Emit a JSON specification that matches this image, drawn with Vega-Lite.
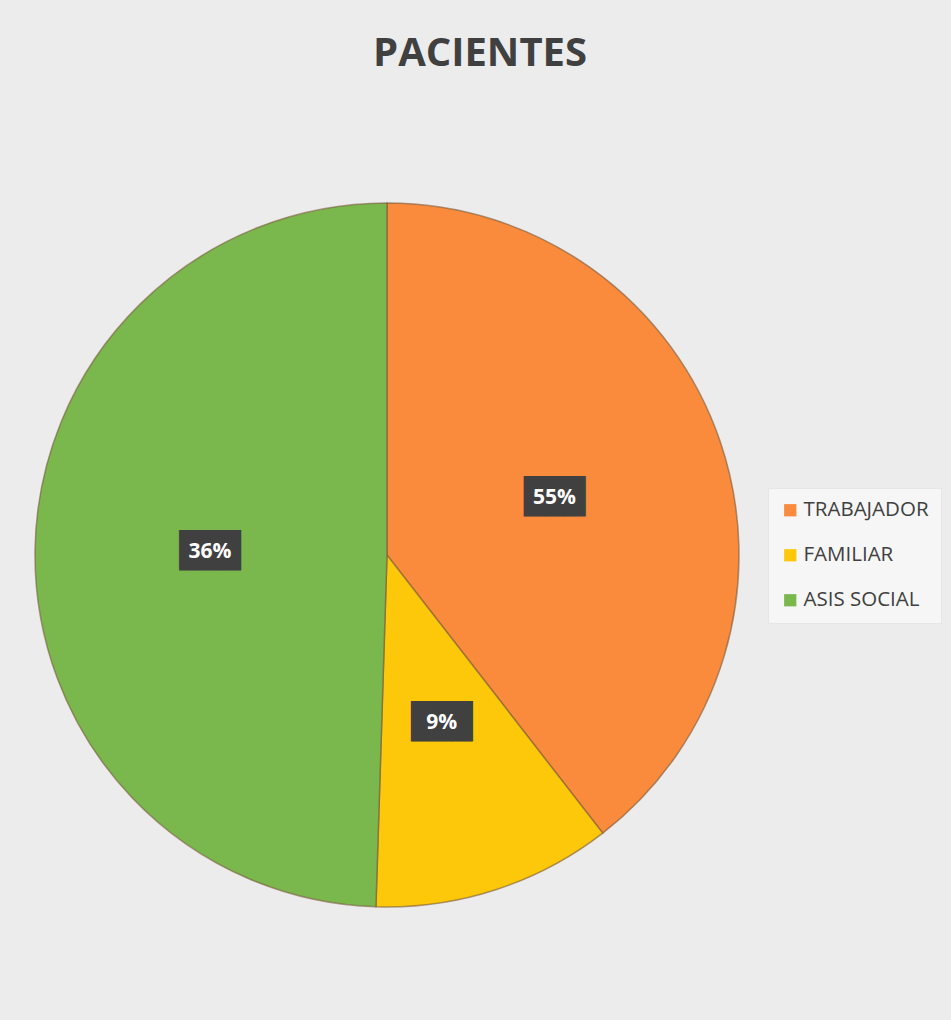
{
  "$schema": "https://vega.github.io/schema/vega-lite/v6.json",
  "autosize": "none",
  "width": 774,
  "height": 930,
  "padding": {"left": 0, "top": 90, "right": 177, "bottom": 0},
  "background": "#ececec",
  "title": {
    "text": "PACIENTES",
    "font": "Open Sans",
    "fontSize": 40,
    "fontWeight": "bold",
    "color": "#404040",
    "anchor": "middle",
    "dx": 93,
    "offset": 16
  },
  "data": {
    "values": [
      {"n": 1, "tipo": "TRABAJADOR", "valor": 39.5, "etiqueta": "55%"},
      {"n": 2, "tipo": "FAMILIAR", "valor": 11.0, "etiqueta": "9%"},
      {"n": 3, "tipo": "ASIS SOCIAL", "valor": 49.5, "etiqueta": "36%"}
    ]
  },
  "encoding": {
    "theta": {"field": "valor", "type": "quantitative", "stack": true},
    "order": {"field": "n", "type": "quantitative", "sort": "ascending"},
    "detail": {"field": "tipo", "type": "nominal"}
  },
  "layer": [
    {
      "mark": {"type": "arc", "outerRadius": 352, "stroke": "#7a5a3a", "strokeWidth": 1.5, "strokeOpacity": 0.6},
      "encoding": {
        "color": {
          "field": "tipo",
          "type": "nominal",
          "sort": ["TRABAJADOR", "FAMILIAR", "ASIS SOCIAL"],
          "scale": {"domain": ["TRABAJADOR", "FAMILIAR", "ASIS SOCIAL"], "range": ["#fa8a3c", "#fdc80a", "#7ab74d"]},
          "legend": {
            "title": null,
            "orient": "none",
            "legendX": 768,
            "legendY": 398,
            "symbolType": "square",
            "symbolSize": 150,
            "symbolStrokeWidth": 0,
            "labelFont": "Open Sans",
            "labelFontSize": 20.5,
            "labelColor": "#404040",
            "labelOffset": 3,
            "rowPadding": 24,
            "padding": 12,
            "fillColor": "#f6f6f6",
            "strokeColor": "#e6e6e6"
          }
        }
      }
    },
    {
      "mark": {"type": "text", "text": "███", "radius": 177, "font": "DejaVu Sans Mono", "fontSize": 34, "baseline": "middle", "color": "#404040"}
    },
    {
      "mark": {"type": "text", "radius": 177, "font": "Open Sans", "fontSize": 21, "fontWeight": "bold", "color": "#ffffff"},
      "encoding": {"text": {"field": "etiqueta", "type": "nominal"}}
    }
  ]
}
